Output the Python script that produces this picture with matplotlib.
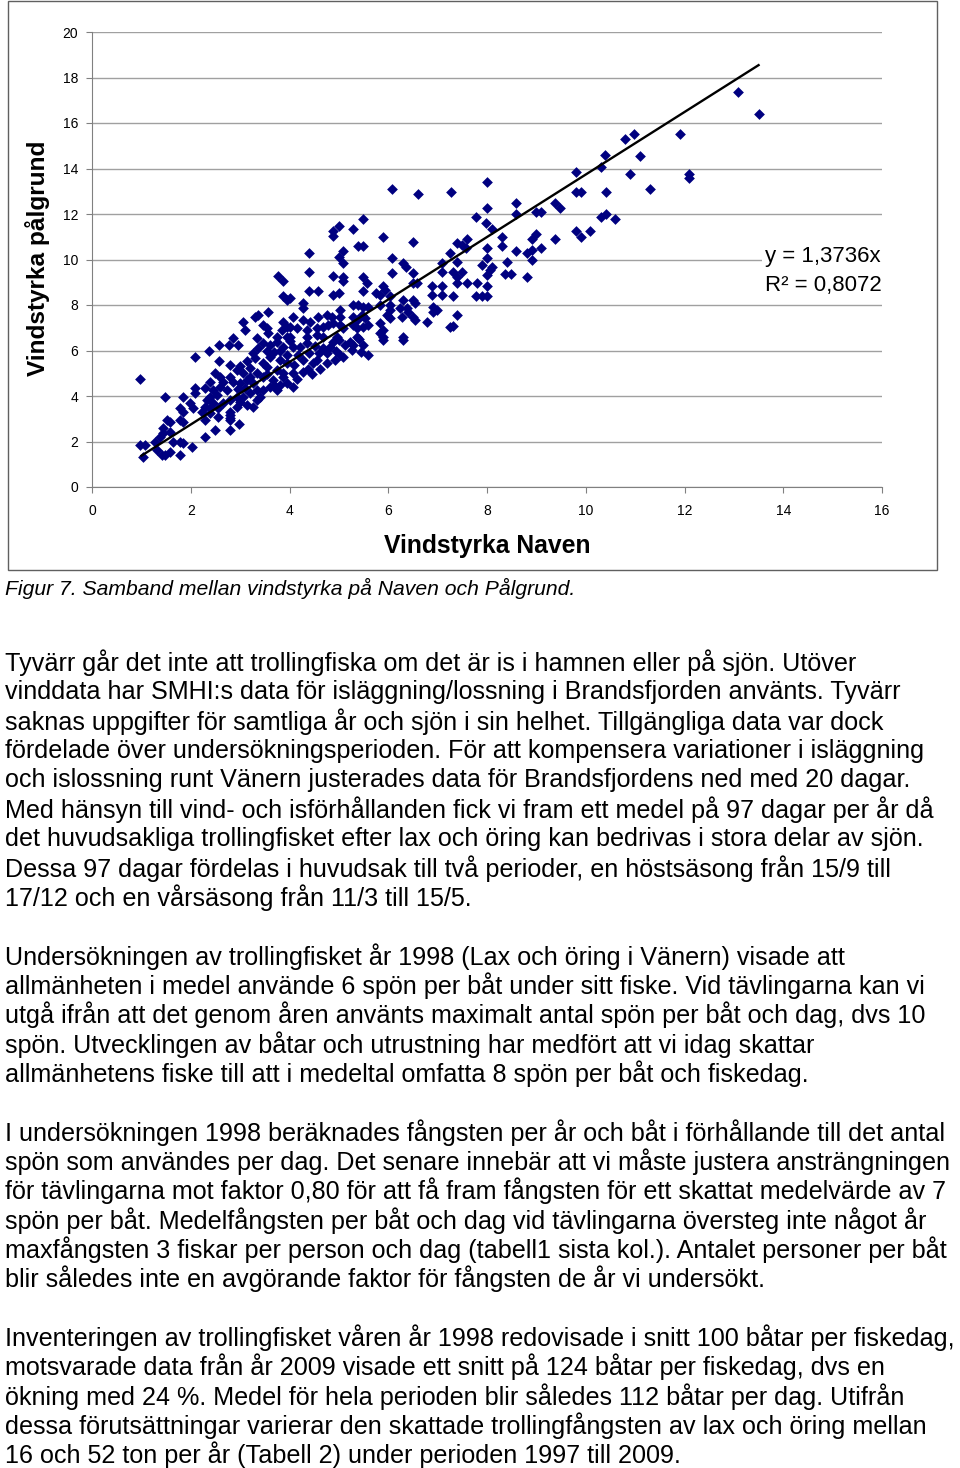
import numpy as np
import matplotlib
matplotlib.use("Agg")
from matplotlib import pyplot as plt
from matplotlib.patches import Rectangle

plt.rcParams['font.family'] = ['Liberation Sans', 'DejaVu Sans']

# Vindstyrka Naven (x) mot Vindstyrka Pålgrund (y)
points = [
    # nedre vänstra hörnet
    (0.97, 4.75), (2.09, 5.71), (2.37, 5.98), (2.57, 6.24), (2.77, 6.24), (2.96, 6.24), (2.57, 5.54),
    (1.48, 3.96), (1.84, 3.96), (2.09, 4.35), (2.09, 4.13), (1.98, 3.69), (2.05, 3.47), (1.78, 3.47),
    (1.84, 3.30), (1.52, 2.95), (1.58, 2.86), (1.44, 2.59), (1.78, 2.95), (1.84, 2.86), (0.97, 1.85),
    (1.07, 1.85), (1.03, 1.32), (1.28, 1.98), (1.32, 1.63), (1.42, 1.41), (1.48, 1.41), (1.58, 1.54),
    (1.78, 1.41), (1.78, 1.98), (1.84, 1.93), (2.03, 1.76), (1.38, 2.20), (1.44, 2.37), (1.58, 2.42),
    (1.64, 1.98), (2.29, 2.20), (2.49, 2.51), (2.79, 2.51), (2.98, 2.77), (2.23, 3.30), (2.29, 2.95),
    (2.39, 3.25), (2.55, 3.08), (2.79, 2.95), (2.79, 3.16),
    # tät klunga 2-4 m/s
    (3.27, 5.88), (3.37, 6.10), (3.47, 6.32), (3.61, 6.24), (3.74, 6.39), (3.87, 6.17), (3.94, 5.80),
    (3.81, 5.58), (3.61, 5.73), (3.47, 5.44), (3.54, 5.29), (3.74, 5.14), (3.87, 4.85), (3.94, 4.56),
    (3.81, 4.48), (3.67, 4.70), (3.47, 4.85), (3.34, 5.00), (3.20, 5.22), (3.06, 5.00), (2.93, 5.14),
    (2.79, 5.36), (2.79, 4.85), (2.86, 4.63), (3.00, 4.56), (3.13, 4.70), (3.27, 4.56), (3.34, 4.26),
    (3.40, 3.97), (3.20, 4.12), (3.06, 3.97), (3.00, 3.75), (2.93, 3.53), (2.79, 3.82), (2.73, 4.26),
    (2.59, 4.41), (2.46, 4.26), (2.39, 3.97), (2.29, 4.34), (2.32, 3.82), (2.46, 3.68), (2.56, 3.46),
    (2.66, 3.68), (2.79, 3.31), (2.79, 3.02), (2.93, 3.97), (3.13, 3.60), (3.27, 3.53), (3.47, 4.26),
    (3.61, 4.41), (3.74, 4.26), (3.87, 5.00), (3.34, 3.82), (3.94, 5.44), (2.59, 4.85), (2.49, 5.00),
    (2.39, 4.63), (2.53, 4.04), (2.29, 3.53), (2.39, 3.46),
    (2.66, 4.60), (2.96, 4.30), (3.10, 4.35), (3.20, 4.85), (3.00, 5.30), (3.13, 5.55), (3.30, 5.65),
    (3.55, 6.00), (3.68, 5.95), (3.80, 6.00), (3.55, 4.95), (3.70, 4.45),
    (3.77, 9.27), (3.87, 9.05), (3.87, 8.40), (3.95, 8.22), (3.56, 7.69), (3.30, 7.47), (3.36, 7.56),
    (3.06, 7.25), (3.10, 6.90), (3.47, 7.12), (3.54, 6.99), (3.56, 6.77), (3.87, 7.25), (3.94, 7.03),
    (3.85, 6.90), (2.86, 6.55), (3.34, 6.55), (3.75, 6.59), (3.95, 6.59),
    # 4-6 m/s
    (4.07, 5.01), (4.07, 4.40), (4.27, 5.05), (4.27, 5.58), (4.48, 5.45), (4.56, 5.58), (4.76, 5.45),
    (4.76, 5.89), (4.82, 6.15), (5.02, 5.80), (5.08, 5.71), (5.27, 6.02), (5.29, 6.24), (5.49, 6.24),
    (5.59, 5.80), (4.21, 6.15), (4.35, 6.33), (4.88, 6.37), (5.23, 6.37), (4.07, 6.15), (4.68, 6.11),
    (6.30, 6.46), (5.89, 6.46),
    (4.10, 5.35), (4.17, 5.80), (4.40, 5.90), (4.52, 6.20), (4.60, 5.90), (4.15, 4.75), (4.37, 5.20),
    (4.62, 5.20), (4.92, 5.60), (4.95, 6.00), (5.12, 6.25), (5.40, 6.50), (4.45, 4.95), (4.02, 6.40),
    (5.00, 6.45), (5.45, 5.95),
    (5.49, 11.78), (5.00, 11.47), (4.88, 11.25), (4.88, 11.03), (5.29, 11.34), (5.89, 10.99),
    (6.50, 10.77), (5.39, 10.59), (5.49, 10.59), (5.08, 10.37), (5.00, 10.11), (5.08, 9.85),
    (4.39, 10.29), (6.08, 10.07), (7.09, 9.85), (7.09, 9.45), (6.30, 9.85), (6.36, 9.67), (6.50, 9.41),
    (4.39, 9.45), (4.88, 9.27), (5.08, 9.23), (5.08, 9.05), (5.49, 9.23), (5.57, 8.97), (5.49, 8.62),
    (6.08, 9.41), (5.89, 8.84), (5.93, 8.66), (6.50, 8.97), (6.58, 8.97), (6.89, 8.84), (7.09, 8.84),
    (6.89, 8.44), (7.09, 8.44), (4.39, 8.62), (4.58, 8.62), (4.88, 8.44), (5.00, 8.53), (5.75, 8.53),
    (5.83, 8.44), (6.04, 8.40), (4.01, 8.31), (4.27, 8.09), (4.27, 7.87), (6.30, 8.22), (6.50, 8.22),
    (6.54, 8.09), (5.29, 8.00), (5.39, 8.00), (5.49, 7.91), (5.59, 7.91), (5.83, 8.00), (6.04, 8.00),
    (6.04, 7.78), (6.24, 7.87), (6.38, 7.87), (6.40, 7.69), (6.91, 7.91), (6.99, 7.78), (6.91, 7.69),
    (4.07, 7.47), (4.27, 7.34), (4.42, 7.25), (4.58, 7.47), (4.76, 7.56), (4.86, 7.47), (5.02, 7.78),
    (5.02, 7.47), (5.29, 7.47), (5.37, 7.34), (5.47, 7.56), (5.53, 7.43), (5.97, 7.56), (6.04, 7.43),
    (6.28, 7.47), (6.50, 7.47), (6.54, 7.34), (6.78, 7.25), (4.01, 7.03), (4.15, 6.99), (4.35, 6.90),
    (4.56, 6.99), (4.68, 7.03), (4.78, 7.12), (4.88, 7.21), (5.02, 7.12), (5.08, 6.99), (5.29, 7.12),
    (5.37, 6.99), (5.49, 7.03), (5.59, 7.12), (5.83, 7.21), (5.89, 6.90), (6.30, 6.59), (7.25, 7.03),
    (4.01, 6.59), (4.35, 6.59), (4.56, 6.68), (4.68, 6.59), (4.96, 6.59), (5.37, 6.59), (5.83, 6.77),
    (5.89, 6.59),
    (6.08, 13.10), (6.60, 12.88), (7.27, 12.97),
    # 7-10 m/s
    (10.31, 14.07), (9.80, 13.85), (9.80, 12.97), (9.90, 12.97), (10.41, 12.97), (8.00, 13.41),
    (8.59, 12.48), (8.00, 12.26), (9.38, 12.48), (9.48, 12.26), (8.59, 12.00), (8.99, 12.09),
    (9.09, 12.09), (10.31, 11.87), (10.41, 12.00), (7.78, 11.87), (7.98, 11.60), (8.10, 11.34),
    (9.80, 11.25), (9.90, 10.99), (10.09, 11.25), (7.59, 10.90), (7.39, 10.73), (7.49, 10.64),
    (7.57, 10.51), (7.25, 10.29), (8.30, 10.99), (8.30, 10.59), (8.00, 10.51), (8.91, 10.90),
    (8.99, 11.12), (9.38, 10.90), (8.59, 10.37), (8.81, 10.29), (8.91, 10.42), (9.09, 10.51),
    (8.91, 9.98), (8.00, 10.07), (7.39, 9.89), (8.40, 9.89), (7.90, 9.76), (8.10, 9.67), (8.06, 9.54),
    (8.00, 9.32), (7.31, 9.45), (7.49, 9.45), (7.39, 9.23), (8.36, 9.36), (8.49, 9.36), (8.81, 9.23),
    (7.39, 8.97), (7.59, 8.97), (7.80, 8.97), (8.00, 8.84), (7.31, 8.40), (7.78, 8.40), (7.90, 8.40),
    (8.00, 8.40), (7.39, 7.56), (7.31, 7.08),
    # höga vindar
    (13.08, 17.36), (13.51, 16.40), (11.91, 15.52), (10.98, 15.52), (10.79, 15.30), (11.10, 14.55),
    (10.90, 13.76), (12.09, 13.76), (12.09, 13.58), (11.30, 13.10), (10.59, 11.78), (10.39, 14.59),
]
naven = [p[0] for p in points]
palgrund = [p[1] for p in points]

slope = 1.3736
r2 = 0.8072
trend_x = [1.0, 13.5]

x_ticks = list(range(0, 17, 2))
y_ticks = list(range(0, 21, 2))

caption = "Figur 7. Samband mellan vindstyrka på Naven och Pålgrund."
body_lines = [
    "Tyvärr går det inte att trollingfiska om det är is i hamnen eller på sjön. Utöver",
    "vinddata har SMHI:s data för isläggning/lossning i Brandsfjorden använts. Tyvärr",
    "saknas uppgifter för samtliga år och sjön i sin helhet. Tillgängliga data var dock",
    "fördelade över undersökningsperioden. För att kompensera variationer i isläggning",
    "och islossning runt Vänern justerades data för Brandsfjordens ned med 20 dagar.",
    "Med hänsyn till vind- och isförhållanden fick vi fram ett medel på 97 dagar per år då",
    "det huvudsakliga trollingfisket efter lax och öring kan bedrivas i stora delar av sjön.",
    "Dessa 97 dagar fördelas i huvudsak till två perioder, en höstsäsong från 15/9 till",
    "17/12 och en vårsäsong från 11/3 till 15/5.",
    "",
    "Undersökningen av trollingfisket år 1998 (Lax och öring i Vänern) visade att",
    "allmänheten i medel använde 6 spön per båt under sitt fiske. Vid tävlingarna kan vi",
    "utgå ifrån att det genom åren använts maximalt antal spön per båt och dag, dvs 10",
    "spön. Utvecklingen av båtar och utrustning har medfört att vi idag skattar",
    "allmänhetens fiske till att i medeltal omfatta 8 spön per båt och fiskedag.",
    "",
    "I undersökningen 1998 beräknades fångsten per år och båt i förhållande till det antal",
    "spön som användes per dag. Det senare innebär att vi måste justera ansträngningen",
    "för tävlingarna mot faktor 0,80 för att få fram fångsten för ett skattat medelvärde av 7",
    "spön per båt. Medelfångsten per båt och dag vid tävlingarna översteg inte något år",
    "maxfångsten 3 fiskar per person och dag (tabell1 sista kol.). Antalet personer per båt",
    "blir således inte en avgörande faktor för fångsten de år vi undersökt.",
    "",
    "Inventeringen av trollingfisket våren år 1998 redovisade i snitt 100 båtar per fiskedag,",
    "motsvarade data från år 2009 visade ett snitt på 124 båtar per fiskedag, dvs en",
    "ökning med 24 %. Medel för hela perioden blir således 112 båtar per dag. Utifrån",
    "dessa förutsättningar varierar den skattade trollingfångsten av lax och öring mellan",
    "16 och 52 ton per år (Tabell 2) under perioden 1997 till 2009.",
]

W, H = 960, 1468
fig = plt.figure(figsize=(W / 100, H / 100), dpi=100)


def fy(py):
    return 1 - py / H


ax = fig.add_axes([92 / W, fy(487), 790 / W, 455 / H])
ax.scatter(naven, palgrund, marker='D', s=30, color='#000080', linewidths=0, zorder=3)
tx = np.array(trend_x)
ax.plot(tx, slope * tx, color='black', lw=1.7, zorder=4)

ax.set_xlim(0, 16)
ax.set_ylim(0, 20)
ax.set_xticks(x_ticks)
ax.set_yticks(y_ticks)
ax.grid(axis='y', color='#a0a0a0', lw=1)
ax.set_axisbelow(True)
for side in ['top', 'right']:
    ax.spines[side].set_visible(False)
for side in ['left', 'bottom']:
    ax.spines[side].set_color('#808080')
ax.tick_params(axis='both', direction='out', length=4, color='#808080', labelsize=10)
ax.tick_params(axis='y', pad=6)
ax.tick_params(axis='x', pad=8)

ax.set_xlabel("Vindstyrka Naven", fontsize=17.8, fontweight='bold', va='center')
ax.xaxis.set_label_coords(0.5, (487 - 546) / 455)
ax.set_ylabel("Vindstyrka pålgrund", fontsize=17.6, fontweight='bold', va='center')
ax.yaxis.set_label_coords((38 - 92) / 790, (487 - 258) / 455)

r2_txt = f"{r2:.4f}".replace(".", ",")
fig.text(765 / W, fy(271), f"y = 1,3736x\nR² = {r2_txt}",
         fontsize=16, va='center', ha='left', linespacing=1.5,
         bbox=dict(facecolor='white', edgecolor='none', pad=2))

fig.add_artist(Rectangle((8 / W, fy(570)), 929 / W, 569 / H, transform=fig.transFigure,
                         fill=False, edgecolor='#606060', lw=1))

fig.text(5 / W, fy(588), caption, fontsize=15.2, style='italic', va='center', ha='left')

y0 = 663
step = 29.33
for i, line in enumerate(body_lines):
    if line:
        fig.text(5 / W, fy(y0 + i * step), line, fontsize=18.05, va='center', ha='left')

fig.savefig("out.png", dpi=100)
